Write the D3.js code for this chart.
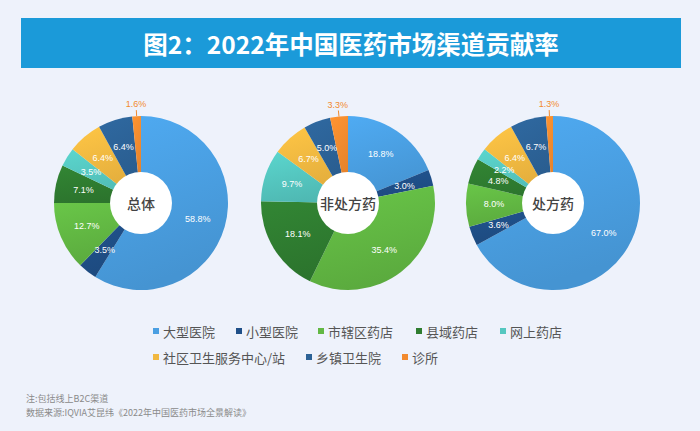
<!DOCTYPE html>
<html><head><meta charset="utf-8">
<script src="https://cdn.jsdelivr.net/npm/d3@7"></script>
<style>
body{margin:0;background:#eef2fb;}
svg{display:block;font-family:"Noto Sans CJK SC","Noto Sans",sans-serif;}
</style>
</head><body>
<svg id="c" width="700" height="431"></svg>
<script>
// ---- data ----
const categories = ["大型医院","小型医院","市辖区药店","县域药店","网上药店","社区卫生服务中心/站","乡镇卫生院","诊所"];
const categoryColors = ["#4a9fe2","#1f4f88","#62b843","#2f7d30","#55c7c0","#f1b840","#2c6296","#f28a2e"];
const pieTitles = ["总体","非处方药","处方药"];
const totalValues = [58.8,3.5,12.7,7.1,3.5,6.4,6.4,1.6];
const otcValues   = [18.8,3.0,35.4,18.1,9.7,6.7,5.0,3.3];
const rxValues    = [67.0,3.6,8.0,4.8,2.2,6.4,6.7,1.3];
const seriesValues = [totalValues, otcValues, rxValues];
const titleText = "图2：2022年中国医药市场渠道贡献率";
const notes = ["注:包括线上B2C渠道","数据来源:IQVIA艾昆纬《2022年中国医药市场全景解读》"];

// ---- layout ----
const svg = d3.select("#c");
svg.append("rect").attr("width",700).attr("height",431).attr("fill","#eef2fb");

const defs = svg.append("defs");
categoryColors.forEach((c,i)=>{
  const g = defs.append("linearGradient").attr("id","g"+i)
    .attr("x1",0).attr("y1",0).attr("x2",0.3).attr("y2",1);
  g.append("stop").attr("offset","0%").attr("stop-color",d3.color(c).brighter(0.2));
  g.append("stop").attr("offset","100%").attr("stop-color",d3.color(c).darker(0.2));
});

// title bar
svg.append("rect").attr("x",21).attr("y",18).attr("width",660).attr("height",50).attr("fill","#1b9ad9");
svg.append("text").attr("x",351).attr("y",43).attr("text-anchor","middle")
  .attr("dominant-baseline","central").attr("fill","#fff")
  .attr("font-size",24.5).attr("font-weight",700).text(titleText);

const centers = [[141,203],[348,203],[553,203]];
const outerR = 87, innerR = 31;
const pie = d3.pie().sort(null).value(d=>d.v);
const arc = d3.arc().innerRadius(0).outerRadius(outerR);
const labelArc = d3.arc().innerRadius(innerR).outerRadius(outerR);

seriesValues.forEach((vals,pi)=>{
  const data = vals.map((v,i)=>({v,i}));
  const arcs = pie(data);
  const g = svg.append("g").attr("transform",`translate(${centers[pi][0]},${centers[pi][1]})`);
  g.selectAll("path.s").data(arcs).join("path").attr("class","s")
    .attr("d",arc).attr("fill",d=>`url(#g${d.data.i})`);
  g.append("circle").attr("r",innerR).attr("fill","#fff");
  g.append("text").attr("text-anchor","middle").attr("dominant-baseline","central")
    .attr("font-size",14).attr("font-weight",500).attr("fill","#444").text(pieTitles[pi]);
  arcs.forEach(d=>{
    const last = d.data.i === categories.length-1;
    if(last){
      const a = (d.startAngle+d.endAngle)/2;
      const sx = Math.sin(a), sy = -Math.cos(a);
      g.append("line").attr("x1",sx*outerR).attr("y1",sy*outerR)
        .attr("x2",sx*(outerR+6)).attr("y2",sy*(outerR+6))
        .attr("stroke",categoryColors[d.data.i]).attr("stroke-width",1);
      g.append("text").attr("x",sx*(outerR+12)).attr("y",sy*(outerR+12))
        .attr("text-anchor","middle").attr("dominant-baseline","central")
        .attr("font-size",9).attr("font-family","Liberation Sans, Arial, sans-serif")
        .attr("fill",categoryColors[d.data.i]).text(d.data.v.toFixed(1)+"%");
    } else {
      const [x,y] = labelArc.centroid(d);
      g.append("text").attr("x",x).attr("y",y)
        .attr("text-anchor","middle").attr("dominant-baseline","central")
        .attr("font-size",9).attr("font-family","Liberation Sans, Arial, sans-serif")
        .attr("fill","#fff").text(d.data.v.toFixed(1)+"%");
    }
  });
});

// legend
const legendPos = [[156,331],[239,331],[321,331],[419,331],[503,331],[156,357],[309,357],[405,357]];
categories.forEach((c,i)=>{
  const [x,y] = legendPos[i];
  svg.append("rect").attr("x",x-3).attr("y",y-3).attr("width",6).attr("height",6).attr("fill",categoryColors[i]);
  svg.append("text").attr("x",x+7).attr("y",y).attr("dominant-baseline","central")
    .attr("font-size",13).attr("fill","#555").text(c);
});

// notes
notes.forEach((t,i)=>{
  svg.append("text").attr("x",26).attr("y",398+i*14).attr("dominant-baseline","central")
    .attr("font-size",9).attr("fill","#8a8a8a").text(t);
});
</script>
</body></html>
